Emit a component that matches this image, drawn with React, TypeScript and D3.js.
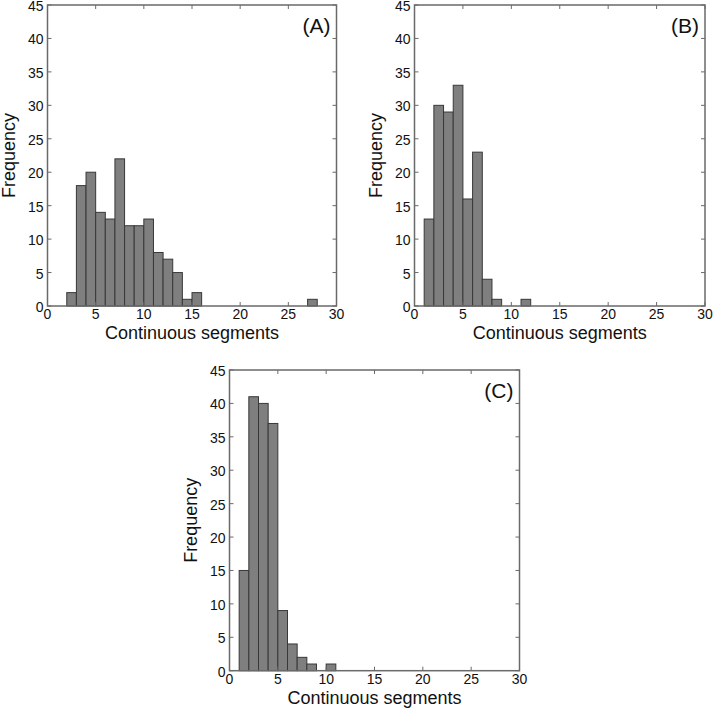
import React from "react";
import * as d3 from "d3";

const xTicks = [0, 5, 10, 15, 20, 25, 30];
const yTicks = [0, 5, 10, 15, 20, 25, 30, 35, 40, 45];

const startA = 2;
const countsA = [2, 18, 20, 14, 13, 22, 12, 12, 13, 8, 7, 5, 1, 2, 0, 0, 0, 0, 0, 0, 0, 0, 0, 0, 0, 1];
const startB = 1;
const countsB = [13, 30, 29, 33, 16, 23, 4, 1, 0, 0, 1];
const startC = 1;
const countsC = [15, 41, 40, 37, 9, 4, 2, 1, 0, 1];

const panelLabels = ["(A)", "(B)", "(C)"];
const xLabel = "Continuous segments";
const yLabel = "Frequency";

const FONT = "'Liberation Sans', Arial, sans-serif";

type PanelProps = {
  left: number;
  top: number;
  width: number;
  height: number;
  start: number;
  counts: number[];
  label: string;
};

function Panel({ left, top, width, height, start, counts, label }: PanelProps) {
  const x = d3.scaleLinear().domain([0, 30]).range([left, left + width]);
  const y = d3.scaleLinear().domain([0, 45]).range([top + height, top]);
  const bins = counts.map((c, i) => ({ x0: start + i, x1: start + i + 1, c }));
  const tickLen = 4;
  const frame = "#6a6a6a";
  return (
    <g>
      {bins
        .filter((b) => b.c > 0)
        .map((b, i) => (
          <rect
            key={i}
            x={x(b.x0)}
            y={y(b.c)}
            width={x(b.x1) - x(b.x0)}
            height={y(0) - y(b.c)}
            fill="#7f7f7f"
            stroke="#383838"
            strokeWidth={1}
          />
        ))}
      {xTicks.map((t) => (
        <g key={"x" + t}>
          <line x1={x(t)} x2={x(t)} y1={y(0)} y2={y(0) - tickLen} stroke={frame} strokeWidth={1} />
          <line x1={x(t)} x2={x(t)} y1={y(45)} y2={y(45) + tickLen} stroke={frame} strokeWidth={1} />
          <text x={x(t)} y={y(0) + 13} textAnchor="middle" fontSize={14} fontFamily={FONT} fill="#111">
            {t}
          </text>
        </g>
      ))}
      {yTicks.map((t) => (
        <g key={"y" + t}>
          <line x1={x(0)} x2={x(0) + tickLen} y1={y(t)} y2={y(t)} stroke={frame} strokeWidth={1} />
          <line x1={x(30)} x2={x(30) - tickLen} y1={y(t)} y2={y(t)} stroke={frame} strokeWidth={1} />
          <text x={x(0) - 4} y={y(t) + 6} textAnchor="end" fontSize={14} fontFamily={FONT} fill="#111">
            {t}
          </text>
        </g>
      ))}
      <rect x={left} y={top} width={width} height={height} fill="none" stroke={frame} strokeWidth={1.5} />
      <text x={left + width - 6} y={top + 27.5} textAnchor="end" fontSize={21} fontFamily={FONT} fill="#111">
        {label}
      </text>
      <text x={left + width / 2} y={top + height + 33} textAnchor="middle" fontSize={18} fontFamily={FONT} fill="#111">
        {xLabel}
      </text>
      <text
        transform={`translate(${left - 33},${top + height / 2}) rotate(-90)`}
        textAnchor="middle"
        fontSize={18}
        fontFamily={FONT}
        fill="#111"
      >
        {yLabel}
      </text>
    </g>
  );
}

export default function App() {
  return (
    <svg
      width={713}
      height={710}
      style={{ position: "absolute", left: 0, top: 0, background: "#fff" }}
    >
      <rect x={0} y={0} width={713} height={710} fill="#fff" />
      <Panel left={47.5} top={5} width={289} height={301} start={startA} counts={countsA} label={panelLabels[0]} />
      <Panel left={414.5} top={5} width={290.5} height={301} start={startB} counts={countsB} label={panelLabels[1]} />
      <Panel left={229.5} top={370} width={290} height={300.7} start={startC} counts={countsC} label={panelLabels[2]} />
    </svg>
  );
}
